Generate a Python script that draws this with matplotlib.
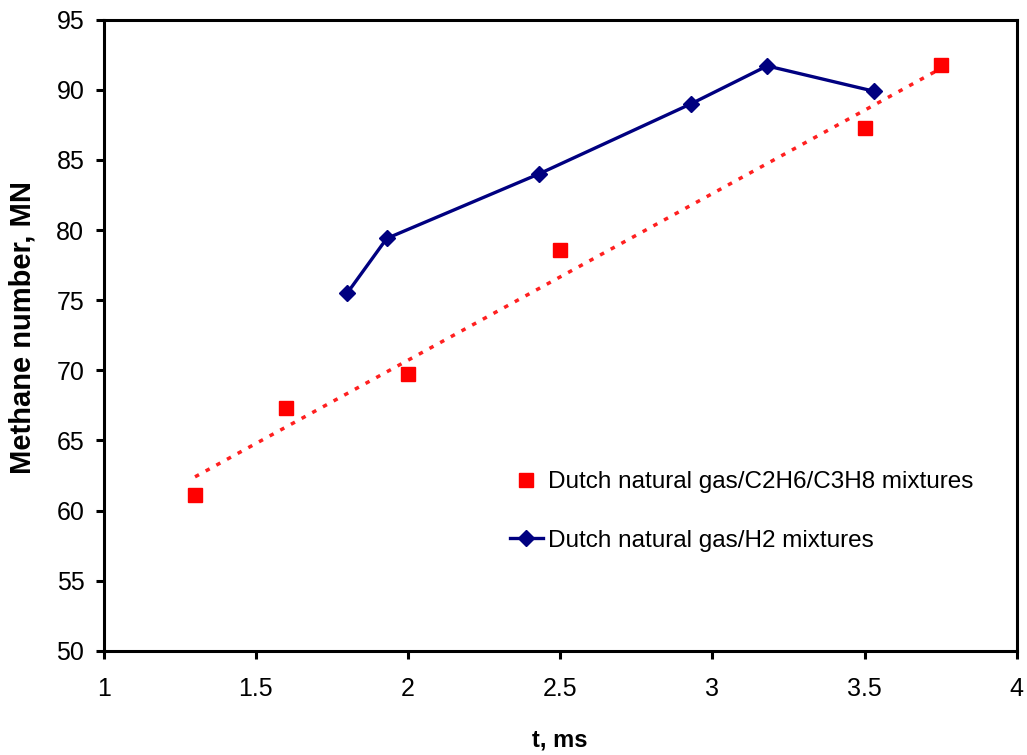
import numpy as np
import matplotlib.pyplot as plt

# Dutch natural gas with added ethane / propane
t_c2c3 = [1.3, 1.6, 2.0, 2.5, 3.5, 3.75]
mn_c2c3 = [61.1, 67.3, 69.7, 78.6, 87.3, 91.8]

# Dutch natural gas with added hydrogen
t_h2 = [1.80, 1.93, 2.43, 2.93, 3.18, 3.53]
mn_h2 = [75.5, 79.4, 84.0, 89.0, 91.7, 89.9]

plt.rcParams['font.family'] = ['Liberation Sans', 'DejaVu Sans']

fig = plt.figure(figsize=(10.27, 7.55), dpi=100)
ax = fig.add_axes([0.101, 0.138, 0.889, 0.836])

# linear trend through the C2H6/C3H8 points
k, b = np.polyfit(t_c2c3, mn_c2c3, 1)
tt = np.array([min(t_c2c3), max(t_c2c3)])
ax.plot(tt, k * tt + b, color='#ff2020', lw=2.5, linestyle=(0, (1.3, 2.2)), zorder=2)

ax.plot(t_c2c3, mn_c2c3, 's', color='#ff0000', ms=10.5, mec='#ff0000', lw=0,
        label='Dutch natural gas/C2H6/C3H8 mixtures', zorder=3)
ax.plot(t_h2, mn_h2, '-D', color='#000080', lw=2.4, ms=8.5,
        label='Dutch natural gas/H2 mixtures', zorder=4)

ax.set_xlim(1, 4)
ax.set_ylim(50, 95)
ax.set_xticks([1, 1.5, 2, 2.5, 3, 3.5, 4])
ax.set_xticklabels(['1', '1.5', '2', '2.5', '3', '3.5', '4'])
ax.set_yticks(np.arange(50, 96, 5))

for s in ax.spines.values():
    s.set_linewidth(2.2)
ax.tick_params(direction='out', length=6, width=2.2, labelsize=18, pad=8)
ax.tick_params(axis='x', pad=13)

ax.set_xlabel('t, ms', fontsize=17, fontweight='bold', labelpad=20)
ax.set_ylabel('Methane number, MN', fontsize=21, fontweight='bold', labelpad=14, y=0.513)

ax.legend(loc='center left', bbox_to_anchor=(0.445, 0.221), frameon=False,
          borderpad=0, borderaxespad=0,
          fontsize=17.5, handlelength=1.35, handletextpad=0.2, labelspacing=1.5)

fig.savefig('out.png', dpi=100)
